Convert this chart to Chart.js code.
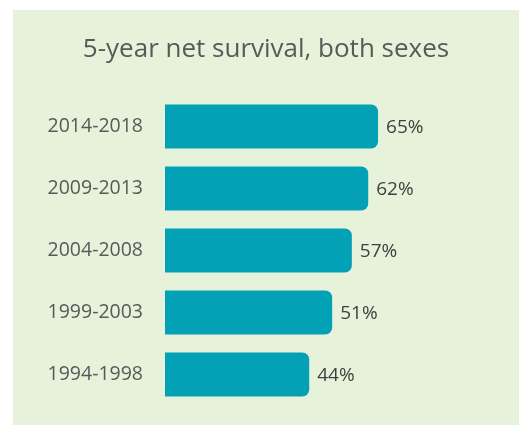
<!DOCTYPE html>
<html>
<head>
<meta charset="utf-8">
<script src="https://cdn.jsdelivr.net/npm/chart.js@4"></script>
<style>
  body { margin: 0; background: #fff; }
  #box { position: absolute; left: 13px; top: 10px; width: 506px; height: 415px; background: #E7F2DB; }
</style>
</head>
<body>
<div id="box"><canvas id="chart"></canvas></div>
<script>
// periods, top to bottom
let periods = ["2014-2018", "2009-2013", "2004-2008", "1999-2003", "1994-1998"];
let survival = [65, 62, 57, 51, 44];

let valueLabels = {
    id: "valueLabels",
    afterDatasetsDraw(chart) {
        let c = chart.ctx;
        c.save();
        c.font = "19px 'Open Sans'";
        c.fillStyle = "#404040";
        c.textAlign = "left";
        c.textBaseline = "middle";
        chart.getDatasetMeta(0).data.forEach((bar, i) => {
            c.fillText(survival[i] + "%", bar.x + 8, bar.y + 1);
        });
        c.restore();
    }
};

let ctx = document.getElementById("chart").getContext("2d");
let chart = new Chart(ctx, {
    type: "bar",
    data: {
        labels: periods,
        datasets: [{
            data: survival,
            backgroundColor: "#02A1B5",
            borderRadius: 7,
            categoryPercentage: 1,
            barPercentage: 0.71
        }]
    },
    options: {
        indexAxis: "y",
        responsive: true,
        maintainAspectRatio: false,
        animation: false,
        layout: { padding: { left: 0, right: 0, top: 0, bottom: 19.5 } },
        plugins: {
            legend: { display: false },
            tooltip: { enabled: false },
            title: {
                display: true,
                text: "5-year net survival, both sexes",
                color: "#595959",
                font: { family: "'Open Sans'", size: 26, weight: "normal" },
                padding: { top: 24, bottom: 30.3 }
            }
        },
        scales: {
            x: { display: false, min: 0, max: 108 },
            y: {
                grid: { display: false, drawTicks: true, tickLength: 22 },
                border: { display: false },
                ticks: {
                    color: "#595959",
                    font: { family: "'Open Sans'", size: 19.5 },
                    padding: 0
                },
                afterFit(scale) { scale.width = 152; }
            }
        }
    },
    plugins: [valueLabels]
});
</script>
</body>
</html>
